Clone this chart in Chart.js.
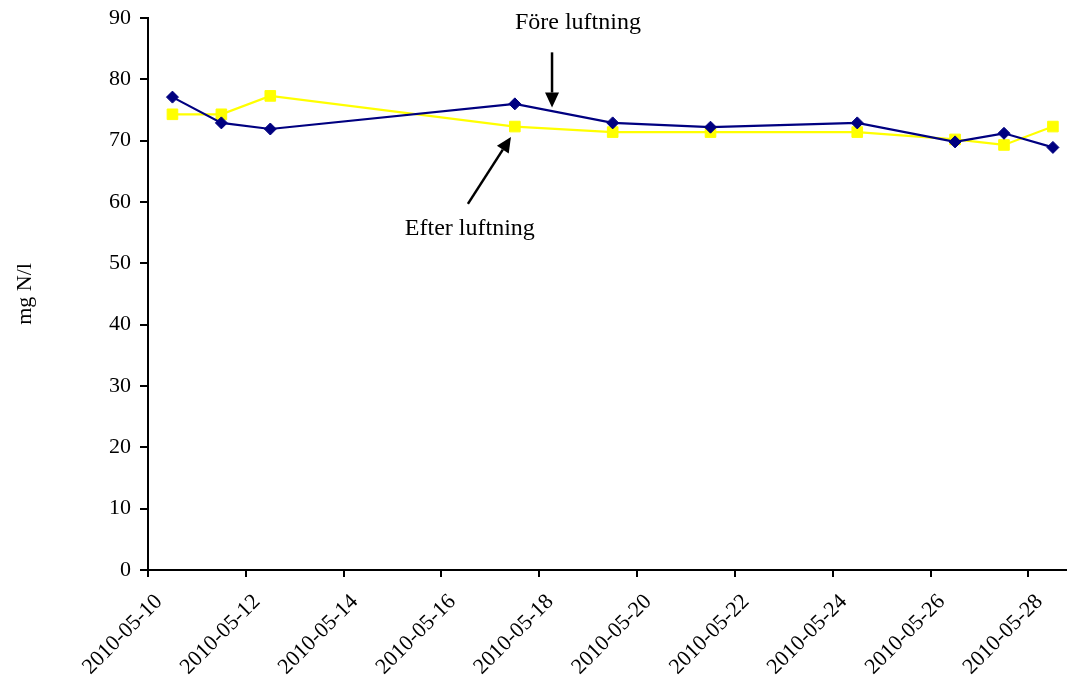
<!DOCTYPE html>
<html>
<head>
<meta charset="utf-8">
<script src="https://cdn.jsdelivr.net/npm/chart.js@4.4.1/dist/chart.umd.min.js"></script>
<style>
  html, body { margin: 0; padding: 0; background: #fff; overflow: hidden; }
  /* lite bredare än fönstret så att x-axeln går ända ut till kanten */
  #wrap { width: 1075px; height: 682px; }
  #wrap canvas { display: block; }
</style>
</head>
<body>
<div id="wrap"><canvas id="ammChart"></canvas></div>
<script>
// provtagningstider och uppmätta halter (mg N/l)
const provtagning = [
  '2010-05-10 12:00', '2010-05-11 12:00', '2010-05-12 12:00', '2010-05-17 12:00',
  '2010-05-19 12:00', '2010-05-21 12:00', '2010-05-24 12:00', '2010-05-26 12:00',
  '2010-05-27 12:00', '2010-05-28 12:00'
];
const foreLuftning  = [77.1, 72.9, 71.9, 76.0, 72.9, 72.2, 72.9, 69.8, 71.2, 68.9];
const efterLuftning = [74.3, 74.3, 77.3, 72.3, 71.4, 71.4, 71.4, 70.2, 69.3, 72.3];

const axelStart = '2010-05-10 00:00';
const axelSlut  = '2010-05-28 18:40';
const yMin = 0, yMax = 90, yStep = 10;
const xStepDagar = 2;

const serif = "'Liberation Serif', 'Times New Roman', serif";
const DAG = 86400000;

function tid(s) { return Date.parse(s.replace(' ', 'T') + ':00Z'); }
function dagar(s) { return (tid(s) - tid(axelStart)) / DAG; }
function datumText(d) {
  return new Date(tid(axelStart) + d * DAG).toISOString().slice(0, 10);
}

// pilar och texter, i axlarnas koordinater (dagar, mg N/l)
const noter = [
  { text: 'Före luftning', tx: 8.79, ty: 89.3, from: [8.26, 84.4], to: [8.26, 75.4] },
  { text: 'Efter luftning', tx: 6.58, ty: 55.6, from: [6.54, 59.7], to: [7.42, 70.6] }
];

const notePlugin = {
  id: 'noter',
  afterDraw(chart) {
    const { ctx, scales: { x, y } } = chart;
    ctx.save();
    ctx.fillStyle = '#000';
    ctx.strokeStyle = '#000';
    ctx.font = '24px ' + serif;
    ctx.textAlign = 'center';
    ctx.textBaseline = 'middle';
    noter.forEach(n => {
      ctx.fillText(n.text, x.getPixelForValue(n.tx), y.getPixelForValue(n.ty));
      const x1 = x.getPixelForValue(n.from[0]), y1 = y.getPixelForValue(n.from[1]);
      const x2 = x.getPixelForValue(n.to[0]),   y2 = y.getPixelForValue(n.to[1]);
      const a = Math.atan2(y2 - y1, x2 - x1);
      const len = 15, half = 7;
      const bx = x2 - len * Math.cos(a), by = y2 - len * Math.sin(a);
      ctx.lineWidth = 2.5;
      ctx.beginPath();
      ctx.moveTo(x1, y1);
      ctx.lineTo(bx, by);
      ctx.stroke();
      ctx.beginPath();
      ctx.moveTo(x2, y2);
      ctx.lineTo(bx + half * Math.sin(a), by - half * Math.cos(a));
      ctx.lineTo(bx - half * Math.sin(a), by + half * Math.cos(a));
      ctx.closePath();
      ctx.fill();
    });
    ctx.restore();
  }
};

const xs = provtagning.map(dagar);

new Chart(document.getElementById('ammChart').getContext('2d'), {
  type: 'line',
  data: {
    datasets: [
      {
        label: 'Före luftning',
        data: xs.map((d, i) => ({ x: d, y: foreLuftning[i] })),
        borderColor: '#000080',
        backgroundColor: '#000080',
        borderWidth: 2.2,
        pointStyle: 'rectRot',
        pointRadius: 6,
        pointBorderWidth: 1,
        tension: 0
      },
      {
        label: 'Efter luftning',
        data: xs.map((d, i) => ({ x: d, y: efterLuftning[i] })),
        borderColor: '#FFFF00',
        backgroundColor: '#FFFF00',
        borderWidth: 2.2,
        pointStyle: 'rect',
        pointRadius: 7.5,
        pointBorderWidth: 1,
        tension: 0
      }
    ]
  },
  options: {
    responsive: true,
    maintainAspectRatio: false,
    animation: false,
    layout: { padding: { top: 18, right: 0, left: 0, bottom: 0 } },
    plugins: {
      legend: { display: false },
      tooltip: { enabled: false },
      title: { display: false }
    },
    scales: {
      x: {
        type: 'linear',
        min: 0,
        max: dagar(axelSlut),
        border: { display: true, color: '#000', width: 2 },
        grid: { display: true, drawOnChartArea: false, drawTicks: true, tickLength: 7, color: '#000', lineWidth: 2 },
        ticks: {
          stepSize: xStepDagar,
          minRotation: 45,
          maxRotation: 45,
          labelOffset: 11,
          padding: 12,
          color: '#000',
          font: { family: serif, size: 22 },
          callback: v => datumText(v)
        },
        afterBuildTicks: s => { s.ticks = s.ticks.filter(t => t.value % xStepDagar === 0); },
        afterFit: s => { s.height = 112; s.paddingRight = 0; s.paddingLeft = 0; }
      },
      y: {
        min: yMin,
        max: yMax,
        border: { display: true, color: '#000', width: 2 },
        grid: { display: true, drawOnChartArea: false, drawTicks: true, tickLength: 8, color: '#000', lineWidth: 2 },
        ticks: {
          stepSize: yStep,
          padding: 9,
          color: '#000',
          font: { family: serif, size: 22 }
        },
        title: {
          display: true,
          text: 'mg N/l',
          color: '#000',
          font: { family: serif, size: 22 },
          padding: { top: 12, bottom: 0 }
        },
        afterFit: s => { s.width = 148; s.paddingTop = 0; s.paddingBottom = 0; }
      }
    }
  },
  plugins: [notePlugin]
});
</script>
</body>
</html>
